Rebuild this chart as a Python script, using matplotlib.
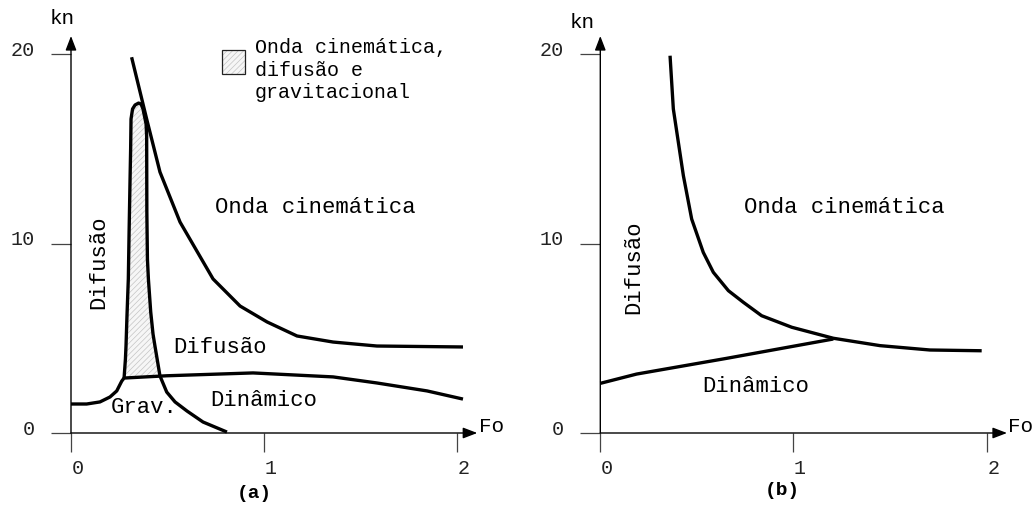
import numpy as np
import matplotlib
matplotlib.use("Agg")
import matplotlib.pyplot as plt
from matplotlib.transforms import ScaledTranslation
from matplotlib.patches import Rectangle

plt.rcParams['font.family'] = ['Liberation Mono', 'DejaVu Sans Mono']
plt.rcParams['hatch.linewidth'] = 0.5

# ---- panel (a) ----
# upper boundary: kinematic wave region
fo_a_cin = [0.314, 0.392, 0.461, 0.565, 0.736, 0.876, 1.016, 1.171, 1.358, 1.585, 2.031]
kn_a_cin = [19.83, 16.57, 13.77, 11.13, 8.13, 6.70, 5.86, 5.12, 4.80, 4.59, 4.54]

# narrow loop (left side up, right side down to the Fo axis)
fo_a_loop = [0.275, 0.282, 0.285, 0.290, 0.297, 0.301, 0.306, 0.309, 0.311, 0.319,
             0.332, 0.350, 0.363, 0.373, 0.389, 0.392, 0.393, 0.396, 0.401, 0.413,
             0.425, 0.435, 0.461, 0.496, 0.539, 0.601, 0.684, 0.808]
kn_a_loop = [2.90, 3.91, 4.59, 6.17, 8.13, 10.61, 13.40, 14.99, 16.57, 17.10,
             17.31, 17.41, 17.36, 17.10, 16.31, 15.67, 11.66, 9.18, 8.13, 6.39,
             5.22, 4.59, 3.01, 2.16, 1.64, 1.16, 0.58, 0.05]

# lower boundary: dynamic region
fo_a_dyn = [0.0, 0.081, 0.150, 0.202, 0.237, 0.263, 0.275, 0.496, 0.943, 1.358, 1.585, 1.845, 2.031]
kn_a_dyn = [1.53, 1.53, 1.64, 1.90, 2.22, 2.74, 2.90, 3.02, 3.17, 2.96, 2.64, 2.22, 1.79]

# ---- panel (b) ----
fo_b_cin = [0.361, 0.378, 0.404, 0.430, 0.473, 0.533, 0.585, 0.663, 0.740, 0.835,
            0.991, 1.206, 1.448, 1.706, 1.974]
kn_b_cin = [19.91, 17.10, 15.34, 13.58, 11.29, 9.53, 8.48, 7.51, 6.90, 6.19,
            5.58, 5.00, 4.61, 4.38, 4.34]

fo_b_dyn = [0.0, 0.188, 0.654, 0.827, 1.206]
kn_b_dyn = [2.62, 3.11, 3.94, 4.26, 4.96]

x_ticks = [0, 1, 2]
y_ticks = [0, 10, 20]

W, H = 1034, 506
fig = plt.figure(figsize=(W / 100, H / 100), dpi=100)
fig.patch.set_facecolor('white')

ax_a = fig.add_axes([71 / W, 72 / H, 386 / W, 379 / H])
ax_b = fig.add_axes([600.3 / W, 72 / H, 386.4 / W, 379 / H])

CURVE = dict(color='black', lw=2.4, solid_joinstyle='round', solid_capstyle='butt', clip_on=False)
LABEL = dict(fontsize=16, color='black', ha='center', va='center')
SHADE = dict(facecolor='#f6f6f6', edgecolor='#c4c4c4', hatch='//////')


def setup(ax, kn_xy, fo_xy, tag, tag_xy, ylab_dx):
    ax.set_xlim(0, 2)
    ax.set_ylim(0, 20)
    for s in ax.spines.values():
        s.set_visible(False)
    ax.patch.set_visible(False)
    ax.set_xticks(x_ticks)
    ax.set_yticks(y_ticks)
    ax.set_xticklabels([str(v) for v in x_ticks])
    ax.set_yticklabels([str(v) for v in y_ticks])
    ax.tick_params(axis='x', direction='out', length=13.7, width=0.9, color='#444',
                   labelsize=14.5, labelcolor='#222', pad=4)
    ax.tick_params(axis='y', direction='out', length=14.2, width=0.9, color='#444',
                   labelsize=14.5, labelcolor='#222', pad=ylab_dx)
    for lab in ax.get_xticklabels():
        lab.set_transform(lab.get_transform() + ScaledTranslation(0.065, 0, fig.dpi_scale_trans))
    for lab in ax.get_yticklabels():
        lab.set_transform(lab.get_transform() + ScaledTranslation(0, 0.065, fig.dpi_scale_trans))

    arrow = dict(arrowstyle='-|>,head_length=0.6,head_width=0.23', mutation_scale=14.4,
                 lw=1.0, color='black', shrinkA=0, shrinkB=0)
    ax.annotate('', xy=(2.105, 0), xytext=(0, 0), arrowprops=arrow, annotation_clip=False)
    ax.annotate('', xy=(0, 20.95), xytext=(0, 0), arrowprops=arrow, annotation_clip=False)

    ax.text(*kn_xy, 'kn', fontsize=15, ha='center', va='center', clip_on=False)
    ax.text(*fo_xy, 'Fo', fontsize=15, ha='left', va='center', clip_on=False)
    ax.text(*tag_xy, tag, fontsize=14, fontweight='bold', ha='center', va='center', clip_on=False)


setup(ax_a, (-0.047, 21.95), (2.114, 0.37), '(a)', (0.948, -3.15), 11.5)
setup(ax_b, (-0.095, 21.74), (2.11, 0.37), '(b)', (0.94, -2.96), 12.2)

# panel (a): shaded zone where all three approximations hold
loop_fo = np.array(fo_a_loop)
loop_kn = np.array(kn_a_loop)
peak = int(np.argmax(loop_kn))
below = loop_kn <= np.interp(loop_fo, fo_a_dyn, kn_a_dyn) + 0.05
k = next(i for i in range(peak, len(loop_fo)) if below[i])
ax_a.fill(loop_fo[:k + 1], loop_kn[:k + 1], lw=0, zorder=1, clip_on=False, **SHADE)

ax_a.plot(fo_a_cin, kn_a_cin, **CURVE)
ax_a.plot(fo_a_loop, kn_a_loop, **CURVE)
ax_a.plot(fo_a_dyn, kn_a_dyn, **CURVE)

# legend swatch
ax_a.add_patch(Rectangle((0.781, 18.94), 0.121, 1.29, lw=0, clip_on=False, **SHADE))
ax_a.add_patch(Rectangle((0.781, 18.94), 0.121, 1.29, facecolor='none', edgecolor='#222',
                         lw=0.9, clip_on=False))
ax_a.text(0.953, 20.37, 'Onda cinemática,', fontsize=14.4, ha='left', va='center', clip_on=False)
ax_a.text(0.953, 19.18, 'difusão e', fontsize=14.4, ha='left', va='center', clip_on=False)
ax_a.text(0.953, 18.02, 'gravitacional', fontsize=14.4, ha='left', va='center', clip_on=False)

ax_a.text(1.267, 11.93, 'Onda cinemática', **LABEL)
ax_a.text(0.145, 9.05, 'Difusão', rotation=90, **LABEL)
ax_a.text(0.772, 4.59, 'Difusão', **LABEL)
ax_a.text(1.0, 1.79, 'Dinâmico', **LABEL)
ax_a.text(0.381, 1.42, 'Grav.', **LABEL)

# panel (b)
ax_b.plot(fo_b_cin, kn_b_cin, **CURVE)
ax_b.plot(fo_b_dyn, kn_b_dyn, **CURVE)
ax_b.text(1.261, 11.93, 'Onda cinemática', **LABEL)
ax_b.text(0.171, 8.79, 'Difusão', rotation=90, **LABEL)
ax_b.text(0.806, 2.50, 'Dinâmico', **LABEL)

fig.savefig('out.png', dpi=100)
